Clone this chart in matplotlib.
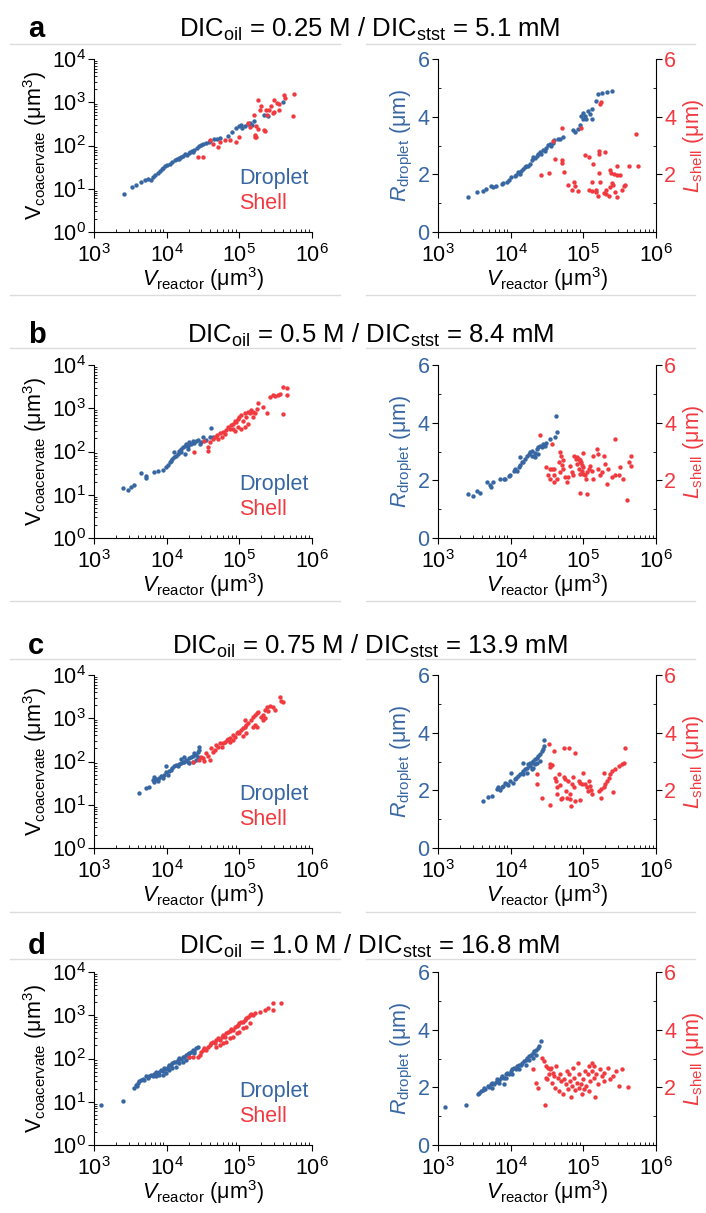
import matplotlib
matplotlib.use("Agg")
import matplotlib.pyplot as plt
from matplotlib.lines import Line2D
from matplotlib.ticker import LogLocator, NullFormatter, FixedLocator

plt.rcParams["font.family"] = ["Liberation Sans", "DejaVu Sans"]
plt.rcParams["mathtext.fontset"] = "custom"
plt.rcParams["mathtext.rm"] = "Liberation Sans"
plt.rcParams["mathtext.it"] = "Liberation Sans:italic"
plt.rcParams["mathtext.bf"] = "Liberation Sans:bold"

BLUE = "#3767a3"
RED = "#f03a40"

W, H = 706, 1213

# ---------------- row a : DIC_oil 0.25 M ----------------
a_vc_drop_x = [2.6e3, 3.3e3, 3.8e3, 4.5e3, 5e3, 5.5e3, 6e3, 6.5e3, 7e3, 7.5e3, 8e3, 8.5e3, 9e3, 9.5e3, 1e4,
               1.1e4, 1.2e4, 1.3e4, 1.4e4, 1.5e4, 1.5e4, 1.6e4, 1.7e4, 1.8e4, 1.9e4, 2e4, 2.1e4, 2.2e4, 2.3e4,
               2.4e4, 2.6e4, 2.8e4, 3e4, 3.2e4, 3.5e4, 3.8e4, 4e4, 4.5e4, 5e4, 5.5e4, 7e4, 8e4, 9e4, 1e5,
               1.05e5, 1.1e5, 1.2e5, 1.3e5, 1.4e5, 1.5e5, 1.6e5, 2.2e5, 2.5e5, 4e5]
a_vc_drop_y = [7.5, 11, 12, 14, 16, 17, 16, 19, 21, 23, 26, 28, 30, 34, 36, 38, 42, 46, 50, 52, 48, 55, 58, 64,
               60, 68, 72, 75, 70, 80, 88, 95, 105, 110, 112, 120, 125, 140, 145, 150, 165, 200, 260, 280, 300,
               260, 290, 320, 340, 300, 370, 500, 480, 1000]
a_vc_shell_x = [2.7e4, 3.2e4, 3.95e4, 4.4e4, 5.1e4, 5.4e4, 6.3e4, 7.4e4, 9e4, 1e5, 1.33e5, 1.4e5, 1.57e5, 1.68e5,
                1.65e5, 1.62e5, 1.72e5, 1.8e5, 2.2e5, 2.25e5, 1.9e5, 2e5, 2.3e5, 2.6e5, 2.7e5, 2.4e5, 1.8e5,
                3e5, 3.3e5, 3.5e5, 3e5, 3.5e5, 4.1e5, 2.9e5, 5.5e5, 5.7e5, 4.2e5]
a_vc_shell_y = [53, 53, 134, 106, 94, 123, 134, 134, 123, 160, 325, 265, 510, 275, 175, 160, 160, 240, 230, 215,
                670, 800, 670, 670, 800, 510, 1140, 1140, 950, 930, 610, 670, 1480, 560, 470, 1570, 1250]
a_r_drop_x = [2.6e3, 3.4e3, 4.2e3, 4.6e3, 5.4e3, 5.7e3, 6.3e3, 7.5e3, 7.9e3, 8.8e3, 9.5e3, 1.0e4, 1.14e4, 1.2e4,
              1.26e4, 1.34e4, 1.4e4, 1.5e4, 1.6e4, 1.65e4, 1.75e4, 1.83e4, 1.95e4, 2.05e4, 2.15e4, 2.3e4, 2.4e4,
              2.5e4, 2.65e4, 2.8e4, 2.95e4, 3.1e4, 3.3e4, 3.45e4, 3.6e4, 3.85e4, 4.0e4, 4.5e4, 4.75e4, 5.3e4,
              7.3e4, 7.6e4, 8.5e4, 8.9e4, 9.4e4, 9.9e4, 1.04e5, 1.1e5, 1.16e5, 1.23e5, 1.3e5, 1.3e5, 1.5e5,
              1.6e5, 1.8e5, 2.1e5, 2.5e5, 9.9e4]
a_r_drop_y = [1.21, 1.38, 1.41, 1.49, 1.59, 1.55, 1.61, 1.67, 1.69, 1.75, 1.82, 1.9, 1.95, 1.99, 2.07, 2.0, 2.13,
              2.18, 2.24, 2.3, 2.3, 2.36, 2.49, 2.59, 2.56, 2.64, 2.7, 2.76, 2.7, 2.84, 2.82, 2.93, 3.02, 3.05,
              2.99, 3.1, 3.18, 3.22, 3.24, 3.3, 3.53, 3.47, 3.56, 3.71, 4.02, 4.14, 4.02, 3.91, 4.2, 4.08, 4.25,
              3.91, 4.54, 4.77, 4.83, 4.86, 4.89, 3.91]
a_l_shell_x = [3.85e4, 5.1e4, 2.65e4, 3.35e4, 4.05e4, 5.1e4, 5.1e4, 5.5e4, 6.2e4, 7.4e4, 7.8e4, 6.9e4, 8.5e4,
               9.2e4, 1.05e5, 1.2e5, 1.3e5, 1.2e5, 1.3e5, 1.5e5, 1.36e5, 1.65e5, 1.7e5, 1.75e5, 1.6e5, 1.5e5,
               1.65e5, 1.65e5, 2.0e5, 1.7e5, 2.05e5, 2.05e5, 2.25e5, 2.3e5, 2.3e5, 2.4e5, 2.5e5, 2.6e5, 2.65e5,
               2.9e5, 3.2e5, 2.9e5, 2.7e5, 2.9e5, 3.4e5, 3.6e5, 3.7e5, 4.2e5, 5.3e5, 5.7e5, 1.9e5]
a_l_shell_y = [3.16, 3.59, 1.99, 2.05, 2.54, 2.49, 2.40, 2.08, 1.63, 1.72, 1.61, 1.46, 1.41, 3.59, 2.68, 2.59,
               1.72, 1.44, 1.41, 1.38, 2.36, 2.03, 4.43, 4.5, 1.26, 1.47, 2.82, 2.70, 2.76, 1.72, 1.44, 1.32,
               1.26, 1.55, 2.16, 2.03, 1.69, 1.63, 2.01, 1.99, 1.98, 1.23, 1.38, 2.29, 1.44, 1.6, 1.63, 2.3,
               3.39, 2.28, 1.34]

# ---------------- row b : DIC_oil 0.5 M ----------------
b_vc_drop_x = [2.47e3, 2.9e3, 3.2e3, 3.6e3, 4.4e3, 5.2e3, 5.2e3, 6.8e3, 7.5e3, 8.8e3, 9.8e3, 1.03e4, 1.1e4,
               1.15e4, 1.2e4, 1.28e4, 1.35e4, 1.42e4, 1.28e4, 1.5e4, 1.6e4, 1.67e4, 1.77e4, 1.85e4, 1.95e4,
               2.05e4, 2.17e4, 2.28e4, 2.4e4, 2.55e4, 2.7e4, 2.85e4, 3.0e4, 3.15e4, 3.5e4, 3.9e4, 4.1e4, 4.3e4,
               1.6e4, 1.77e4, 1.95e4]
b_vc_drop_y = [14.6, 12.7, 15.2, 17, 31, 27.4, 24, 34, 36, 37, 44, 49, 56, 61, 67, 73, 80, 87, 96, 104, 114,
               125, 137, 149, 137, 163, 149, 179, 155, 173, 186, 149, 163, 214, 186, 222, 347, 214, 96, 87, 114]
b_vc_shell_x = [2.4e4, 3.7e4, 3.7e4, 3.3e4, 3.9e4, 4.3e4, 4.6e4, 4.9e4, 5.1e4, 5.4e4, 5.7e4, 6.0e4, 6.3e4,
                6.6e4, 7.0e4, 7.4e4, 7.8e4, 8.2e4, 8.7e4, 9.1e4, 9.6e4, 1.0e5, 1.07e5, 1.13e5, 1.19e5, 1.25e5,
                1.3e5, 1.4e5, 1.47e5, 1.55e5, 9.6e4, 1.07e5, 1.19e5, 1.3e5, 1.55e5, 1.65e5, 1.73e5, 1.83e5,
                2.15e5, 2.4e5, 2.65e5, 2.9e5, 3.1e5, 3.45e5, 3.6e5, 4.0e5, 4.0e5, 4.5e5, 4.6e5, 8.2e4, 8.7e4]
b_vc_shell_y = [96, 104, 125, 179, 163, 195, 214, 245, 195, 265, 222, 280, 257, 316, 367, 336, 400, 436, 520,
                475, 570, 620, 690, 520, 760, 620, 820, 760, 900, 820, 367, 336, 367, 436, 620, 760, 980, 1320,
                1050, 760, 1850, 2000, 1900, 2000, 2150, 720, 3150, 2900, 2000, 336, 305]
b_r_drop_x = [2.6e3, 3.05e3, 3.4e3, 3.8e3, 4.65e3, 5.2e3, 5.3e3, 5.75e3, 7.2e3, 8.0e3, 8.4e3, 9.4e3, 9.9e3,
              1.1e4, 1.16e4, 1.22e4, 1.29e4, 1.36e4, 1.43e4, 1.36e4, 1.5e4, 1.6e4, 1.67e4, 1.77e4, 1.87e4,
              1.97e4, 2.07e4, 2.18e4, 2.3e4, 2.4e4, 2.55e4, 2.7e4, 2.8e4, 2.95e4, 3.1e4, 3.5e4, 4.1e4, 4.25e4,
              4.3e4, 1.97e4, 2.18e4, 2.4e4]
b_r_drop_y = [1.52, 1.46, 1.62, 1.57, 1.94, 1.85, 1.78, 1.94, 2.03, 2.03, 2.06, 2.15, 2.17, 2.31, 2.4, 2.34,
              2.46, 2.54, 2.63, 2.8, 2.63, 2.74, 2.86, 2.91, 2.97, 3.03, 2.86, 2.95, 3.09, 3.14, 3.2, 3.14, 3.26,
              3.2, 3.31, 3.43, 3.49, 4.23, 3.66, 2.86, 2.8, 2.91]
b_l_shell_x = [2.5e4, 3.7e4, 3.45e4, 3.7e4, 4.0e4, 3.3e4, 3.9e4, 3.5e4, 4.0e4, 4.3e4, 4.7e4, 4.9e4, 4.6e4,
               5.1e4, 5.3e4, 4.8e4, 5.3e4, 5.6e4, 5.9e4, 6.2e4, 6.6e4, 6.9e4, 7.3e4, 7.5e4, 8.0e4, 8.1e4, 8.1e4,
               8.6e4, 8.9e4, 9.0e4, 9.2e4, 9.5e4, 8.6e4, 9.0e4, 9.5e4, 1.0e5, 1.0e5, 8.9e4, 1.0e5, 1.05e5,
               1.1e5, 1.13e5, 1.13e5, 1.18e5, 1.24e5, 1.3e5, 1.35e5, 1.37e5, 1.53e5, 1.57e5, 1.6e5, 1.7e5,
               1.8e5, 1.9e5, 2.0e5, 2.2e5, 2.15e5, 2.45e5, 2.7e5, 3.1e5, 2.7e5, 3.2e5, 3.5e5, 4.0e5, 4.2e5,
               4.6e5, 4.6e5, 3.1e4]
b_l_shell_y = [3.57, 3.26, 2.4, 2.38, 2.38, 2.17, 2.19, 2.03, 1.94, 2.03, 2.97, 2.86, 2.63, 2.54, 2.69, 2.29,
               2.4, 2.11, 1.94, 2.11, 2.51, 2.29, 2.19, 2.86, 2.74, 2.57, 2.8, 2.74, 2.69, 2.63, 2.65, 2.54, 2.4,
               2.23, 2.34, 2.46, 2.23, 1.57, 2.95, 2.17, 2.06, 2.29, 1.51, 2.4, 2.51, 2.34, 2.86, 2.06, 3.09,
               2.91, 2.4, 2.19, 2.29, 2.86, 2.57, 2.4, 1.89, 2.11, 2.17, 2.19, 3.43, 2.46, 2.06, 1.33, 2.63,
               2.86, 2.51, 2.46]

# ---------------- row c : DIC_oil 0.75 M ----------------
c_vc_drop_x = [4.2e3, 5.2e3, 5.8e3, 6.4e3, 6.6e3, 6.8e3, 7.1e3, 7.5e3, 7.9e3, 8.4e3, 8.8e3, 9.3e3, 9.8e3,
               1.03e4, 1.09e4, 1.15e4, 1.2e4, 1.28e4, 9.8e3, 1.35e4, 1.42e4, 1.5e4, 1.58e4, 1.67e4, 1.75e4,
               1.85e4, 1.95e4, 2.05e4, 2.17e4, 2.28e4, 2.4e4, 2.55e4, 2.7e4, 2.8e4, 2.8e4, 2.05e4, 2.28e4,
               2.55e4, 2.7e4, 1.75e4, 1.58e4]
c_vc_drop_y = [18.6, 24.2, 25.5, 37.7, 42.7, 33, 39, 36, 41, 45, 41, 49, 56, 49, 59, 64, 70, 77, 77, 84, 77,
               88, 91, 100, 95, 109, 100, 119, 130, 135, 155, 142, 170, 185, 220, 92, 100, 109, 130, 130, 113]
c_vc_shell_x = [2.28e4, 2.8e4, 3.0e4, 3.15e4, 3.3e4, 3.5e4, 3.7e4, 3.9e4, 4.1e4, 4.3e4, 4.6e4, 4.8e4, 5.1e4,
                5.4e4, 5.7e4, 6.0e4, 6.3e4, 6.7e4, 7.0e4, 7.4e4, 8.3e4, 8.7e4, 9.2e4, 9.6e4, 1.0e5, 1.07e5,
                1.13e5, 1.19e5, 1.25e5, 1.13e5, 1.25e5, 1.19e5, 1.3e5, 1.47e5, 1.55e5, 1.65e5, 1.73e5, 1.83e5,
                1.55e5, 1.65e5, 1.73e5, 2.0e5, 2.15e5, 2.25e5, 2.4e5, 2.5e5, 2.15e5, 2.25e5, 2.65e5, 2.9e5,
                3.1e5, 3.6e5, 3.8e5, 4.0e5, 8.3e4, 7.4e4]
c_vc_shell_y = [95, 109, 130, 119, 103, 155, 135, 109, 203, 170, 185, 240, 220, 263, 220, 270, 290, 316, 330,
                345, 410, 375, 450, 490, 460, 530, 590, 640, 700, 380, 450, 910, 760, 910, 1090, 1200, 1340,
                1420, 640, 700, 640, 1090, 1200, 1550, 1850, 1500, 910, 990, 1950, 1850, 1550, 3170, 2500, 2400,
                316, 290]
c_r_drop_x = [4.2e3, 4.9e3, 5.6e3, 6.4e3, 6.8e3, 7.1e3, 7.5e3, 7.9e3, 8.4e3, 8.8e3, 9.3e3, 9.8e3, 1.01e4,
              1.09e4, 1.15e4, 1.2e4, 1.28e4, 1.35e4, 1.42e4, 1.47e4, 1.5e4, 1.58e4, 1.67e4, 1.75e4, 1.85e4,
              1.95e4, 2.05e4, 2.17e4, 2.28e4, 2.4e4, 2.55e4, 2.7e4, 2.8e4, 2.9e4, 2.9e4, 1.85e4, 2.05e4, 2.28e4,
              1.95e4, 2.17e4, 2.55e4, 1.5e4, 1.67e4]
c_r_drop_y = [1.64, 1.78, 1.81, 2.04, 2.12, 2.0, 2.1, 2.16, 2.27, 2.21, 2.19, 2.33, 2.61, 2.27, 2.39, 2.44,
              2.5, 2.56, 2.61, 2.96, 2.67, 2.73, 2.79, 2.9, 2.84, 2.96, 3.02, 3.07, 3.13, 3.19, 3.25, 3.36, 3.42,
              3.53, 3.73, 2.96, 2.79, 2.96, 2.73, 2.9, 3.02, 2.56, 2.61]
c_l_shell_x = [2.28e4, 2.28e4, 2.7e4, 3.35e4, 3.5e4, 3.7e4, 3.5e4, 3.5e4, 3.9e4, 4.1e4, 4.2e4, 4.3e4, 4.4e4,
               4.6e4, 4.8e4, 5.0e4, 5.1e4, 5.4e4, 5.5e4, 5.6e4, 5.8e4, 6.0e4, 6.1e4, 6.3e4, 6.5e4, 6.6e4, 6.8e4,
               7.0e4, 7.2e4, 7.5e4, 7.7e4, 7.7e4, 8.6e4, 9.1e4, 9.6e4, 9.1e4, 1.0e5, 1.07e5, 1.13e5, 1.16e5,
               1.2e5, 1.23e5, 1.26e5, 1.3e5, 1.65e5, 1.73e5, 1.75e5, 1.9e5, 1.95e5, 2.0e5, 2.1e5, 2.25e5, 2.3e5,
               2.5e5, 2.6e5, 2.75e5, 3.1e5, 3.4e5, 3.6e5, 3.8e5]
c_l_shell_y = [2.56, 2.21, 1.73, 3.59, 2.9, 2.88, 2.81, 1.5, 3.36, 2.44, 2.33, 1.87, 2.1, 2.56, 2.19, 1.7,
               1.75, 3.47, 2.47, 2.39, 1.98, 1.75, 2.33, 3.47, 1.87, 1.7, 1.47, 2.21, 2.47, 2.1, 1.64, 3.3, 2.33,
               2.27, 2.21, 1.66, 2.61, 2.21, 2.1, 1.98, 2.33, 2.16, 2.01, 1.87, 1.98, 1.75, 2.04, 2.61, 2.1,
               2.21, 2.33, 2.44, 2.56, 2.67, 1.93, 2.73, 2.84, 2.9, 2.96, 3.47]

# ---------------- row d : DIC_oil 1.0 M ----------------
d_vc_drop_x = [1.24e3, 2.47e3, 3.6e3, 3.8e3, 3.85e3, 4.0e3, 4.2e3, 4.4e3, 4.7e3, 4.9e3, 5.2e3, 5.5e3, 5.8e3,
               6.1e3, 6.4e3, 6.8e3, 7.1e3, 7.5e3, 7.9e3, 8.4e3, 8.8e3, 9.3e3, 9.8e3, 1.03e4, 1.09e4, 1.15e4,
               1.2e4, 1.28e4, 1.35e4, 1.42e4, 1.5e4, 1.58e4, 1.67e4, 1.75e4, 1.85e4, 1.95e4, 2.05e4, 2.17e4,
               2.28e4, 2.4e4, 2.55e4, 2.7e4, 7.9e3, 9.8e3, 1.2e4, 1.5e4, 1.85e4, 7.1e3, 8.8e3, 1.09e4, 1.35e4,
               1.67e4, 2.05e4, 2.4e4]
d_vc_drop_y = [8.6, 10.3, 20.7, 24.8, 22.8, 27, 29.5, 32, 34, 32, 38.6, 35, 38.6, 42, 40, 43.6, 50, 46, 50,
               55, 52, 60, 58, 65, 71, 69, 78, 85, 82, 93, 102, 98, 106, 111, 121, 125, 133, 145, 158, 150, 172,
               189, 42, 46, 60, 78, 93, 39, 42, 55, 65, 85, 111, 133]
d_vc_shell_x = [2.05e4, 2.28e4, 2.7e4, 2.85e4, 3.0e4, 3.15e4, 3.3e4, 3.5e4, 3.7e4, 3.9e4, 4.1e4, 4.3e4, 4.6e4,
                4.8e4, 5.1e4, 5.4e4, 5.7e4, 6.0e4, 6.3e4, 6.6e4, 7.0e4, 7.4e4, 7.8e4, 8.3e4, 8.7e4, 9.2e4, 9.6e4,
                1.0e5, 1.07e5, 1.13e5, 1.19e5, 1.25e5, 1.3e5, 1.4e5, 1.47e5, 1.55e5, 1.65e5, 1.9e5, 2.25e5,
                2.5e5, 2.9e5, 2.9e5, 3.8e5, 5.4e4, 6.6e4, 8.3e4, 1.0e5, 1.25e5, 4.8e4, 6.0e4, 7.4e4, 9.2e4,
                1.13e5, 1.4e5]
d_vc_shell_y = [106, 111, 111, 121, 145, 158, 172, 158, 189, 205, 225, 245, 225, 268, 292, 268, 320, 350, 320,
                380, 415, 432, 475, 455, 540, 570, 595, 650, 710, 690, 780, 850, 930, 1010, 1050, 1010, 1100,
                1200, 1310, 1480, 1880, 1310, 1950, 205, 245, 320, 415, 540, 189, 225, 292, 380, 500, 650]
d_r_drop_x = [1.24e3, 2.4e3, 3.6e3, 3.7e3, 3.85e3, 4.1e3, 4.3e3, 4.5e3, 4.8e3, 5.0e3, 5.3e3, 5.6e3, 5.9e3,
              6.2e3, 6.5e3, 6.9e3, 7.3e3, 7.7e3, 8.1e3, 8.5e3, 9.0e3, 9.5e3, 1.0e4, 1.05e4, 1.1e4, 1.17e4,
              1.23e4, 1.3e4, 1.37e4, 1.45e4, 1.53e4, 1.61e4, 1.7e4, 1.8e4, 1.9e4, 2.0e4, 2.1e4, 2.2e4, 2.35e4,
              2.45e4, 2.6e4, 6.9e3, 8.5e3, 1.05e4, 1.3e4, 1.61e4, 2.0e4, 1.8e4, 2.2e4, 8.1e3, 5.6e3]
d_r_drop_y = [1.31, 1.4, 1.77, 1.82, 1.86, 1.9, 1.99, 1.94, 2.05, 2.02, 2.11, 2.16, 2.11, 2.2, 2.28, 2.24,
              2.33, 2.39, 2.33, 2.45, 2.51, 2.47, 2.56, 2.62, 2.68, 2.64, 2.73, 2.79, 2.77, 2.85, 2.9, 2.96,
              3.02, 3.08, 3.13, 3.19, 3.25, 3.3, 3.36, 3.45, 3.59, 2.16, 2.31, 2.45, 2.62, 2.79, 3.02, 2.96,
              3.13, 2.11, 1.99]
d_l_shell_x = [2.0e4, 2.2e4, 2.35e4, 2.7e4, 2.9e4, 3.05e4, 3.0e4, 3.1e4, 3.2e4, 3.4e4, 3.5e4, 3.6e4, 3.7e4,
               3.8e4, 4.0e4, 4.1e4, 4.2e4, 4.45e4, 4.6e4, 4.7e4, 4.9e4, 5.2e4, 5.5e4, 5.7e4, 5.9e4, 6.1e4, 6.3e4,
               6.6e4, 6.8e4, 7.0e4, 7.2e4, 7.5e4, 7.8e4, 8.1e4, 8.4e4, 8.6e4, 8.8e4, 9.3e4, 9.6e4, 9.8e4,
               1.03e5, 1.07e5, 1.1e5, 1.15e5, 1.2e5, 1.2e5, 1.25e5, 1.3e5, 1.33e5, 1.4e5, 1.42e5, 1.47e5, 1.5e5,
               1.6e5, 1.7e5, 1.8e5, 1.9e5, 1.95e5, 2.2e5, 2.55e5, 2.8e5, 2.3e5, 3.1e5, 3.4e5, 4.1e5, 3.3e4]
d_l_shell_y = [2.62, 2.16, 1.99, 3.02, 2.9, 2.73, 1.39, 2.33, 2.28, 2.45, 2.62, 2.68, 2.16, 2.51, 2.39, 1.99,
               2.73, 2.33, 1.88, 2.45, 2.22, 1.77, 2.28, 2.11, 2.56, 1.94, 2.45, 2.22, 1.65, 2.05, 2.68, 2.33,
               1.9, 2.16, 2.85, 1.99, 2.45, 2.11, 1.77, 2.28, 1.94, 2.56, 2.05, 2.45, 2.73, 1.88, 2.22, 2.85,
               2.56, 2.73, 2.33, 1.65, 2.45, 2.11, 2.62, 2.39, 2.51, 2.22, 2.68, 2.39, 2.56, 2.28, 2.05, 2.64,
               2.02, 2.68]

panel_letters = ["a", "b", "c", "d"]
dic_oil = ["0.25", "0.5", "0.75", "1.0"]
dic_stst = ["5.1", "8.4", "13.9", "16.8"]

rows = [
    (a_vc_drop_x, a_vc_drop_y, a_vc_shell_x, a_vc_shell_y, a_r_drop_x, a_r_drop_y, a_l_shell_x, a_l_shell_y),
    (b_vc_drop_x, b_vc_drop_y, b_vc_shell_x, b_vc_shell_y, b_r_drop_x, b_r_drop_y, b_l_shell_x, b_l_shell_y),
    (c_vc_drop_x, c_vc_drop_y, c_vc_shell_x, c_vc_shell_y, c_r_drop_x, c_r_drop_y, c_l_shell_x, c_l_shell_y),
    (d_vc_drop_x, d_vc_drop_y, d_vc_shell_x, d_vc_shell_y, d_r_drop_x, d_r_drop_y, d_l_shell_x, d_l_shell_y),
]

# layout in pixels (from the top of the figure)
axes_top = [59, 365, 675, 972]
axes_h = 173
title_base = [37, 343, 654, 954]
top_rule = [44, 348, 659, 959]
bottom_rule = [295, 601, 912]

TICK_FS = 15.5
LABEL_FS = 15.5
TEXT_FS = 15.5
TITLE_FS = 18.5
DOT = 10
XLABEL = r"$V_{\mathregular{reactor}}$ (μm$^{\mathregular{3}}$)"

fig = plt.figure(figsize=(W / 100, H / 100), dpi=100)


def add_axes_px(x0, x1, top):
    return fig.add_axes([x0 / W, 1 - (top + axes_h) / H, (x1 - x0) / W, axes_h / H])


def style_ticks(ax):
    ax.tick_params(which="major", direction="out", length=4, width=0.8, labelsize=TICK_FS, pad=2)
    ax.tick_params(axis="x", which="major", pad=4.5)
    ax.tick_params(which="minor", direction="in", length=2.2, width=0.6)
    for s in ax.spines.values():
        s.set_linewidth(0.8)


def hline(y, x0, x1):
    fig.add_artist(Line2D([x0 / W, x1 / W], [1 - y / H, 1 - y / H], color="#dcdcdc", lw=1.0))


for i, data in enumerate(rows):
    vcx, vcy, vsx, vsy, rdx, rdy, lsx, lsy = data
    top = axes_top[i]

    # left: coacervate volume
    ax = add_axes_px(94, 312, top)
    ax.set_xscale("log")
    ax.set_yscale("log")
    ax.scatter(vcx, vcy, s=DOT, color=BLUE, linewidths=0, zorder=3)
    ax.scatter(vsx, vsy, s=DOT, color=RED, linewidths=0, zorder=3)
    ax.set_xlim(1e3, 1e6)
    ax.set_ylim(1, 1e4)
    ax.xaxis.set_major_locator(LogLocator(base=10, numticks=10))
    ax.yaxis.set_major_locator(LogLocator(base=10, numticks=10))
    ax.xaxis.set_minor_locator(LogLocator(base=10, subs=range(2, 10), numticks=20))
    ax.yaxis.set_minor_locator(LogLocator(base=10, subs=range(2, 10), numticks=20))
    ax.xaxis.set_minor_formatter(NullFormatter())
    ax.yaxis.set_minor_formatter(NullFormatter())
    ax.spines["top"].set_visible(False)
    ax.spines["right"].set_visible(False)
    style_ticks(ax)
    ax.set_xlabel(XLABEL, fontsize=LABEL_FS, labelpad=-1)
    ax.set_ylabel(r"V$_{\mathregular{coacervate}}$ (μm$^{\mathregular{3}}$)", fontsize=LABEL_FS, labelpad=2)
    ax.text(0.665, 0.28, "Droplet", color=BLUE, fontsize=TEXT_FS, transform=ax.transAxes, va="baseline")
    ax.text(0.665, 0.135, "Shell", color=RED, fontsize=TEXT_FS, transform=ax.transAxes, va="baseline")

    # right: droplet radius / shell thickness
    axr = add_axes_px(438, 656, top)
    axr.set_xscale("log")
    axr.scatter(rdx, rdy, s=DOT, color=BLUE, linewidths=0, zorder=3)
    axr.set_xlim(1e3, 1e6)
    axr.set_ylim(0, 6)
    axr.xaxis.set_major_locator(LogLocator(base=10, numticks=10))
    axr.xaxis.set_minor_locator(LogLocator(base=10, subs=range(2, 10), numticks=20))
    axr.xaxis.set_minor_formatter(NullFormatter())
    axr.yaxis.set_major_locator(FixedLocator([0, 2, 4, 6]))
    axr.yaxis.set_minor_locator(FixedLocator([1, 3, 5]))
    axr.spines["top"].set_visible(False)
    axr.spines["right"].set_visible(False)
    style_ticks(axr)
    axr.tick_params(axis="y", which="major", labelcolor=BLUE)
    axr.set_xlabel(XLABEL, fontsize=LABEL_FS, labelpad=-1)
    axr.set_ylabel(r"$R_{\mathregular{droplet}}$ (μm)", fontsize=LABEL_FS, color=BLUE, labelpad=2)

    axt = axr.twinx()
    axt.scatter(lsx, lsy, s=DOT, color=RED, linewidths=0, zorder=3)
    axt.set_ylim(0, 6)
    axt.yaxis.set_major_locator(FixedLocator([2, 4, 6]))
    axt.yaxis.set_minor_locator(FixedLocator([1, 3, 5]))
    for side in ("top", "left", "bottom"):
        axt.spines[side].set_visible(False)
    style_ticks(axt)
    axt.tick_params(axis="y", which="major", labelcolor=RED)
    axt.set_ylabel(r"$L_{\mathregular{shell}}$ (μm)", fontsize=LABEL_FS, color=RED, labelpad=3)

    # row heading
    fig.text(28 / W, 1 - title_base[i] / H, panel_letters[i], fontsize=21, fontweight="bold", va="baseline")
    fig.text(370 / W, 1 - title_base[i] / H,
             r"DIC$_{\mathregular{oil}}$ = " + dic_oil[i] + r" M / DIC$_{\mathregular{stst}}$ = " + dic_stst[i] + " mM",
             fontsize=TITLE_FS, ha="center", va="baseline")
    hline(top_rule[i], 10, 340)
    hline(top_rule[i], 366, 695)

for y in bottom_rule:
    hline(y, 10, 340)
    hline(y, 366, 695)

fig.savefig("out.png", dpi=100)
